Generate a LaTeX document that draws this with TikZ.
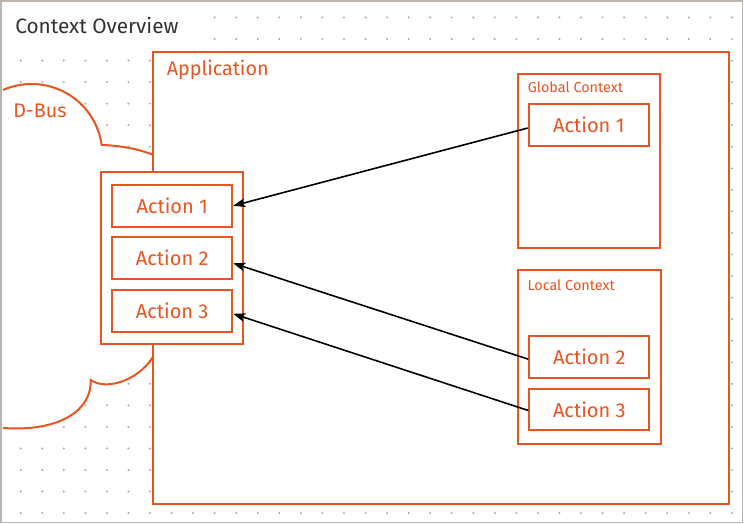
\documentclass[tikz,border=0pt]{standalone}
\usepackage{fontspec}
\setmainfont{Fira Sans}
\usetikzlibrary{arrows.meta,calc}
\definecolor{ubo}{HTML}{E95420}
\definecolor{framec}{HTML}{BDB5AD}
\definecolor{dotc}{HTML}{ABA59F}
\definecolor{titlec}{HTML}{333333}
\begin{document}
\begin{tikzpicture}[x=0.75pt,y=-0.75pt,
  box/.style={draw=ubo, line width=1.5pt, fill=white, inner sep=0pt},
  actbox/.style={box, minimum width=90pt, minimum height=31.2pt, text=ubo,
    font=\fontsize{15pt}{17pt}\selectfont},
  ctxbox/.style={box, minimum width=106.8pt, minimum height=130.6pt},
  biglbl/.style={anchor=base west, inner sep=0pt, text=ubo, font=\fontsize{14.8pt}{17pt}\selectfont},
  smalllbl/.style={anchor=base west, inner sep=0pt, text=ubo, font=\fontsize{10.8pt}{13pt}\selectfont},
  cloudline/.style={draw=ubo, line width=1.5pt},
  arr/.style={draw=black, line width=1.2pt, -{Stealth[length=9pt,width=6.5pt,inset=2pt]}}]
\useasboundingbox (0,0) rectangle (744,524);
% dotted grid
\foreach \i in {0,...,33}{
  \foreach \j in {-1,...,22}{
    \fill[dotc] (20.7+21.55*\i, 39+21.55*\j) circle (1.1);
  }
}
% title backdrop and title
\fill[white] (2.5,2.5) rectangle (205,50);
\node[anchor=base west, inner sep=0pt, text=titlec, font=\fontsize{15.6pt}{18pt}\selectfont] (title) at (15,33.5) {Context Overview};
% cloud
\fill[white] (2,90) -- (3,90) arc[start angle=-113.8, end angle=-8, radius=70.8]
  .. controls (125,146) and (145,150) .. (165,160) -- (165,350) -- (155,353)
  .. controls (143,378) and (108,392) .. (90.7,380)
  .. controls (92,410) and (60,432) .. (3,428) -- (2,428) -- cycle;
\draw[cloudline] (3,90) arc[start angle=-113.8, end angle=-8, radius=70.8]
  .. controls (125,146) and (145,150) .. (165,160);
\draw[cloudline] (155,353) .. controls (143,378) and (108,392) .. (90.7,380)
  .. controls (92,410) and (60,432) .. (3,428);
\node[biglbl] (dbus) at (13,117.5) {D-Bus};
% application
\node[box, minimum width=432pt, minimum height=339.45pt] (app) at (441.3,278) {};
\node[biglbl] (applbl) at (166.5,75.5) {Application};
% left panel
\node[box, minimum width=106.7pt, minimum height=129.5pt] (panel) at (172.2,258) {};
\node[actbox] (la1) at (172.2,205.8) {Action 1};
\node[actbox] (la2) at (172.2,258.3) {Action 2};
\node[actbox] (la3) at (172.2,310.8) {Action 3};
% contexts
\node[ctxbox] (gctx) at (588.9,161.3) {};
\node[smalllbl] (glbl) at (527.5,93) {Global Context};
\node[actbox] (ga1) at (588.8,125) {Action 1};
\node[ctxbox] (lctx) at (589.5,357.2) {};
\node[smalllbl] (llbl) at (527.3,291) {Local Context};
\node[actbox] (ra2) at (589.3,357.2) {Action 2};
\node[actbox] (ra3) at (589.3,409.5) {Action 3};
% arrows
\draw[arr] ($(ga1.west)+(0,3)$) -- ($(la1.east)+(0,0)$);
\draw[arr] ($(ra2.west)+(0,2)$) -- ($(la2.east)+(0,5)$);
\draw[arr] ($(ra3.west)+(0,1)$) -- ($(la3.east)+(0,3)$);
% frame
\draw[framec, line width=1.2pt] (1,1) rectangle (742.5,522.5);
\end{tikzpicture}
\end{document}
